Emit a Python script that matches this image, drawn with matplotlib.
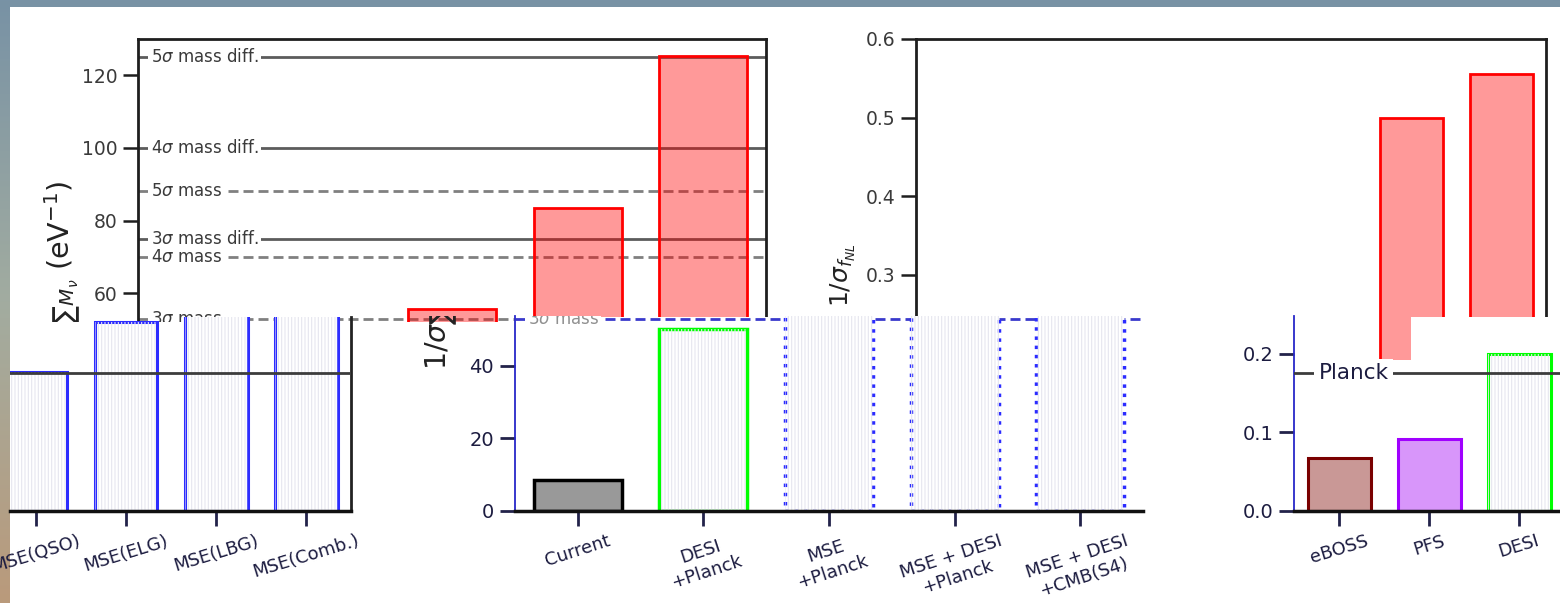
import numpy as np
import matplotlib
matplotlib.use('Agg')
import matplotlib.pyplot as plt
from matplotlib.patches import Rectangle
from matplotlib.transforms import Bbox, TransformedBbox
from matplotlib.colors import LinearSegmentedColormap

plt.rcParams['font.family'] = ['DejaVu Sans']
plt.rcParams['mathtext.fontset'] = 'dejavusans'
plt.rcParams['hatch.linewidth'] = 0.8

# ------------------------------------------------------------------ data
nu_categories = ['Current', 'DESI\n+Planck', 'MSE\n+Planck',
                 'MSE + DESI\n+Planck', 'MSE + DESI\n+CMB(S4)']
nu_values = [8.5, 50.0, 55.7, 83.5, 125.2]
nu_ref_labels = [r'5$\sigma$ mass diff.', r'4$\sigma$ mass diff.', r'5$\sigma$ mass',
                 r'3$\sigma$ mass diff.', r'4$\sigma$ mass', r'3$\sigma$ mass']
nu_ref_values = [125, 100, 88, 75, 70, 53]
nu_ref_is_diff = [True, True, False, True, False, False]
nu_yticks = [0, 20, 40, 60, 80, 100, 120]

fnl_categories = ['eBOSS', 'PFS', 'DESI', 'MSE(QSO)', 'MSE(ELG)', 'MSE(LBG)', 'MSE(Comb.)']
fnl_values = [0.067, 0.091, 0.199, 0.177, 0.24, 0.500, 0.555]
fnl_planck = 0.175
fnl_yticks = [0.0, 0.1, 0.2, 0.3, 0.4, 0.5, 0.6]
fnl_yticklabels = ['0.0', '0.1', '0.2', '0.3', '0.4', '0.5', '0.6']

# ------------------------------------------------------------------ styles
RED_FILL = (1.0, 0.0, 0.0, 0.4)
nu_top_face = ['#999999', 'white', RED_FILL, RED_FILL, RED_FILL]
nu_top_edge = ['black', '#00ff00', 'red', 'red', 'red']
nu_copy_face = ['#999999', 'white', 'white', 'white', 'white']
nu_copy_edge = ['black', '#00ff00', '#2b2bff', '#2b2bff', '#2b2bff']
nu_copy_ls = ['-', '-', ':', ':', ':']
fnl_top_face = ['#c99896', '#d896fa', 'white', RED_FILL, RED_FILL, RED_FILL, RED_FILL]
fnl_top_edge = ['#7a0000', '#a000ff', '#00ff00', 'red', 'red', 'red', 'red']
fnl_copy_face = ['#c99896', '#d896fa', 'white', 'white', 'white', 'white', 'white']
fnl_copy_edge = ['#7a0000', '#a000ff', '#00ff00', '#2b2bff', '#2b2bff', '#2b2bff', '#2b2bff']

TOP_TXT = '#3a3a3a'
COPY_TXT = '#1c1c40'
DASH = (0, (3.6, 1.8))
NU_YLABEL = r'$1/\sigma_{\sum M_\nu}$ (eV$^{-1}$)'

W, H = 1560, 603
fig = plt.figure(figsize=(W / 100, H / 100), dpi=100)
fig.patch.set_facecolor('white')


def rect(x0, y0, x1, y1):
    return [x0 / W, 1 - y1 / H, (x1 - x0) / W, (y1 - y0) / H]


def fbox(x0, y0, x1, y1):
    return TransformedBbox(Bbox.from_extents(x0 / W, 1 - y1 / H, x1 / W, 1 - y0 / H),
                           fig.transFigure)


# ------------------------------------------------------------------ slide background
bg = fig.add_axes([0, 0, 1, 1], zorder=-10)
cmap = LinearSegmentedColormap.from_list('slide', ['#7892a5', '#a2aca0', '#ba9a7b'])
bg.imshow(np.linspace(0, 1, 256).reshape(-1, 1), cmap=cmap, aspect='auto',
          extent=[0, 1, 0, 1])
bg.axis('off')
fig.add_artist(Rectangle((10 / W, 0), 1 - 10 / W, 1 - 7 / H, transform=fig.transFigure,
                         facecolor='white', edgecolor='none', zorder=-5))


def style_top(ax):
    for s in ax.spines.values():
        s.set_linewidth(2)
        s.set_color('#1e1e1e')
    ax.tick_params(direction='out', length=11, width=1.8, color='#1e1e1e',
                   labelsize=13.5, labelcolor=TOP_TXT, pad=4)


# ------------------------------------------------------------------ top-left: neutrino mass
xn = np.arange(len(nu_categories))
ax1 = fig.add_axes(rect(138, 39, 766, 511), zorder=0)
for v, lab, diff in zip(nu_ref_values, nu_ref_labels, nu_ref_is_diff):
    ax1.axhline(v, color='#5c5c5c' if diff else '#808080', lw=2,
                ls='-' if diff else DASH, zorder=1)
    ax1.text(-0.4, v, lab, ha='left', va='center', fontsize=12, color=TOP_TXT,
             bbox=dict(boxstyle='square,pad=0.15', fc='white', ec='none'), zorder=2)
ax1.bar(xn, nu_values, width=0.7, color=nu_top_face, edgecolor=nu_top_edge,
        linewidth=2, zorder=3)
ax1.set_yticks(nu_yticks)
ax1.set_xticks(xn, nu_categories)
ax1.set_xlim(-0.5, len(nu_categories) - 0.5)
ax1.set_ylim(0, 130)
style_top(ax1)
ax1.set_ylabel(NU_YLABEL, fontsize=20.5, color='#222222')
ax1.yaxis.set_label_coords(-0.088, 0.5)

# ------------------------------------------------------------------ top-right: fNL
xf = np.arange(len(fnl_categories))
ax2 = fig.add_axes(rect(916, 39, 1546, 511), zorder=0)
ax2.bar(xf, fnl_values, width=0.7, color=fnl_top_face, edgecolor=fnl_top_edge,
        linewidth=2, zorder=3)
ax2.axhline(fnl_planck, color='#3c3c3c', lw=2, zorder=2)
ax2.set_yticks(fnl_yticks, fnl_yticklabels)
ax2.set_xticks(xf, fnl_categories)
ax2.set_xlim(-0.5, len(fnl_categories) - 0.5)
ax2.set_ylim(0, 0.6)
style_top(ax2)
ax2.set_ylabel(r'$1/\sigma_{f_{NL}}$', fontsize=18, color='#222222')
ax2.yaxis.set_label_coords(-0.092, 0.5)

# ------------------------------------------------------------------ white overlay (lower band)
for (x0, y0, x1, y1) in [(10, 322, 515, 603), (515, 317, 914, 603), (918, 317, 1377, 603),
                         (1377, 360, 1411, 603), (1411, 317, 1560, 603)]:
    fig.add_artist(Rectangle((x0 / W, 1 - y1 / H), (x1 - x0) / W, (y1 - y0) / H,
                             transform=fig.transFigure, facecolor='white',
                             edgecolor='none', zorder=5))

FNL_PX = 630 / len(fnl_categories)
NU_PX_PER_UNIT = (511 - 39) / 130
FNL_PX_PER_UNIT = (511 - 39) / 0.6


def style_copy(ax, left=False, right=False):
    ax.patch.set_visible(False)
    ax.spines['top'].set_visible(False)
    ax.spines['left'].set_visible(left)
    ax.spines['right'].set_visible(right)
    ax.spines['bottom'].set_linewidth(2.5)
    ax.spines['bottom'].set_color('#111111')
    ax.spines['left'].set_linewidth(1.3)
    ax.spines['left'].set_color('#2828c8')
    ax.spines['right'].set_linewidth(2)
    ax.spines['right'].set_color('#222222')
    ax.tick_params(direction='out', length=11, width=2, color='#22224a',
                   labelsize=14, labelcolor=COPY_TXT, pad=4)


def rotate_labels(ax, angle, size):
    for t in ax.get_xticklabels():
        t.set_rotation(angle)
        t.set_ha('center')
        t.set_multialignment('center')
        t.set_fontsize(size)


# ------------------------------------------------------------------ lower-left: fNL copy (MSE part)
ax3 = fig.add_axes(rect(10, 317, 351, 511), zorder=10)
ax3.bar(xf, fnl_values, width=0.7, color=fnl_copy_face, edgecolor=fnl_copy_edge,
        linewidth=2.2, zorder=2)
ax3.bar(xf, fnl_values, width=0.7, color='none', edgecolor='#e6e6ef', linewidth=0,
        hatch='|||||', zorder=2.5)
ax3.axhline(fnl_planck, color='#3c3c3c', lw=2, zorder=4)
ax3.set_yticks([])
ax3.set_xticks(xf, fnl_categories)
ax3.set_xlim(len(fnl_categories) - 0.5 - (351 - 10) / FNL_PX, len(fnl_categories) - 0.5)
ax3.set_ylim(0, (511 - 317) / FNL_PX_PER_UNIT)
style_copy(ax3, left=False, right=True)
rotate_labels(ax3, 17, 13)

# ------------------------------------------------------------------ lower-middle: neutrino copy
ax4 = fig.add_axes(rect(515, 316, 1143, 511), zorder=10)
for i in range(len(nu_values)):
    ax4.bar(xn[i], nu_values[i], width=0.7, color=nu_copy_face[i],
            edgecolor=nu_copy_edge[i], linestyle=nu_copy_ls[i], linewidth=2.5, zorder=2)
ax4.bar(xn[1:], nu_values[1:], width=0.7, color='none', edgecolor='#e6e6ef',
        linewidth=0, hatch='|||||', zorder=2.5)
for v, lab, diff in zip(nu_ref_values, nu_ref_labels, nu_ref_is_diff):
    ax4.axhline(v, color='#3a3acc', lw=2, ls='-' if diff else DASH, zorder=1)
    ax4.text(-0.4, v, lab, ha='left', va='center', fontsize=12, color='#909090',
             bbox=dict(boxstyle='square,pad=0.15', fc='white', ec='none'),
             zorder=1.5, clip_on=True)
ax4.set_yticks([0, 20, 40])
ax4.set_xticks(xn, nu_categories)
ax4.set_xlim(-0.5, len(nu_categories) - 0.5)
ax4.set_ylim(0, (511 - 316) / NU_PX_PER_UNIT)
style_copy(ax4, left=True, right=False)
rotate_labels(ax4, 18, 13)
ax4.set_ylabel(NU_YLABEL, fontsize=20.5, color='#222222')
ax4.yaxis.set_label_coords(-0.088, (511 - 275) / (511 - 316))
ax4.yaxis.label.set_clip_box(fbox(10, 316, 1560, 603))
ax4.yaxis.label.set_clip_on(True)

# ------------------------------------------------------------------ lower-right: fNL copy (first part)
ax5 = fig.add_axes(rect(1294, 316, 1560, 511), zorder=10)
ax5.bar(xf, fnl_values, width=0.7, color=fnl_copy_face, edgecolor=fnl_copy_edge,
        linewidth=2.2, zorder=2)
ax5.bar(xf[2:], fnl_values[2:], width=0.7, color='none', edgecolor='#e6e6ef',
        linewidth=0, hatch='|||||', zorder=2.5)
ax5.axhline(fnl_planck, color='#3c3c3c', lw=2, zorder=3)
ax5.text(0.16, fnl_planck, 'Planck', ha='center', va='center', fontsize=15.5,
         color=COPY_TXT, bbox=dict(boxstyle='square,pad=0.2', fc='white', ec='none'),
         zorder=4)
ax5.set_yticks(fnl_yticks[:3], fnl_yticklabels[:3])
ax5.set_xticks(xf, fnl_categories)
ax5.set_xlim(-0.5, -0.5 + (1560 - 1294) / FNL_PX)
ax5.set_ylim(0, (511 - 316) / FNL_PX_PER_UNIT)
style_copy(ax5, left=True, right=False)
rotate_labels(ax5, 17, 13)

fig.savefig('out.png', dpi=100, facecolor=fig.get_facecolor())
